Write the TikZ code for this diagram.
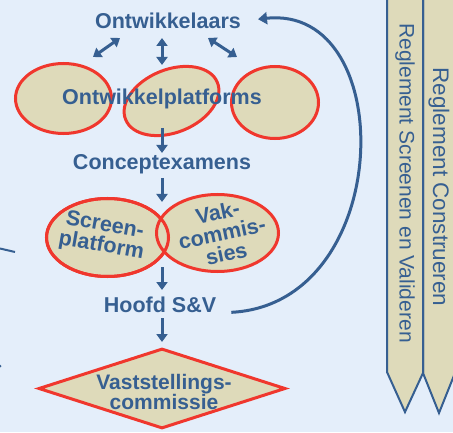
\documentclass[tikz,border=0pt]{standalone}
\usepackage{fontspec}
\setmainfont{Liberation Sans}
\usetikzlibrary{arrows.meta,shapes.geometric}
\definecolor{ovBlue}{RGB}{54,95,145}
\definecolor{ovTan}{RGB}{222,218,186}
\definecolor{ovRed}{RGB}{240,55,45}
\definecolor{ovBack}{RGB}{228,238,250}

\begin{document}
\begin{tikzpicture}[x=1pt, y=1pt,
    word/.style={text=ovBlue, font=\fontsize{21.5}{21}\selectfont\bfseries, inner sep=0pt, align=center},
    platform/.style={ellipse, fill=ovTan, draw=ovRed, line width=3pt, inner sep=0pt},
    flow/.style={ovBlue, line width=3pt, -{Triangle[width=11pt,length=8pt]}},
    dflow/.style={flow, {Triangle[width=11pt,length=8pt]}-{Triangle[width=11pt,length=8pt]}},
    banner/.style={fill=ovTan, draw=ovBlue, line width=2pt},
    regel/.style={text=ovBlue, rotate=-90, inner sep=0pt}]
  \useasboundingbox (0,0) rectangle (453,432);
  \fill[ovBack] (0,0) rectangle (453,432);

  % Reglementen
  \draw[banner] (423,445) -- (423,59) -- (439,19) -- (455,59) -- (455,445);
  \draw[banner] (387,445) -- (387,60) -- (405,20) -- (423,59) -- (423,445);
  \node[regel, font=\fontsize{21}{24}\selectfont] (regelSV) at (405,249) {Reglement Screenen en Valideren};
  \node[regel, font=\fontsize{22.5}{24}\selectfont] (regelC) at (439,245) {Reglement Construeren};

  % Ontwikkelplatforms
  \node[platform, minimum width=96pt, minimum height=70pt] (platL) at (63.5,333.5) {};
  \node[platform, minimum width=99pt, minimum height=63pt, rotate=22] (platM) at (171.5,331) {};
  \node[platform, minimum width=87pt, minimum height=72pt] (platR) at (275,329.5) {};

  % Screenplatform en vakcommissies
  \node[platform, minimum width=122pt, minimum height=78pt] (screenE) at (107.5,194.5) {};
  \node[platform, minimum width=122pt, minimum height=77pt] (vakE) at (217.5,199) {};
  \draw[ovRed, line width=3pt] (screenE.center) ellipse [x radius=61, y radius=39];

  % Vaststellingscommissie
  \node[diamond, fill=ovTan, draw=ovRed, line width=3pt, inner sep=0pt,
        minimum width=247pt, minimum height=80pt] (boardD) at (162,43.5) {};

  % Teksten
  \node[word] (dev) at (168,411) {Ontwikkelaars};
  \node[word] (plat) at (162,333) {Ontwikkelplatforms};
  \node[word] (concept) at (162,268) {Conceptexamens};
  \node[word, rotate=-10] (screen) at (103,196) {Screen-\\platform};
  \node[word, rotate=12] (vak) at (222,199) {Vak-\\commis-\\sies};
  \node[word] (head) at (160,127) {Hoofd S\&V};
  \node[word, font=\fontsize{21}{19}\selectfont\bfseries] (board) at (164,40) {Vaststellings-\\commissie};

  % Pijlen
  \coordinate (devW) at (120,394);
  \coordinate (platLN) at (93,375);
  \coordinate (devE) at (208,394);
  \coordinate (platRN) at (237,375);
  \coordinate (pairTop) at (162,217);
  \coordinate (pairBot) at (162,177);
  \draw[dflow] (devW) -- (platLN);
  \draw[dflow] (devE) -- (platRN);
  \draw[dflow, shorten <=17pt, shorten >=34pt] (dev.center -| plat.center) -- (plat.center);
  \draw[flow, shorten <=29pt, shorten >=11pt] (plat.center) -- (concept.center);
  \draw[flow, shorten <=14pt, shorten >=13pt] (concept.center) -- (pairTop);
  \draw[flow, shorten <=12pt, shorten >=15pt] (pairBot) -- (pairBot |- head.center);
  \draw[flow, shorten <=13pt, shorten >=46.5pt] (head.center -| boardD.center) -- (boardD.center);

  % Terugkoppeling
  \draw[flow, -{Triangle[width=12pt,length=9pt]}, shorten <=15pt, shorten >=17pt]
    (head.south east) .. controls (395,128) and (400,428) .. (dev.east);

  % Rand
  \draw[ovBlue, line width=2pt] (0,183.5) -- (15,180);
  \fill[ovBlue] (0,66) circle (1.5);
\end{tikzpicture}
\end{document}
